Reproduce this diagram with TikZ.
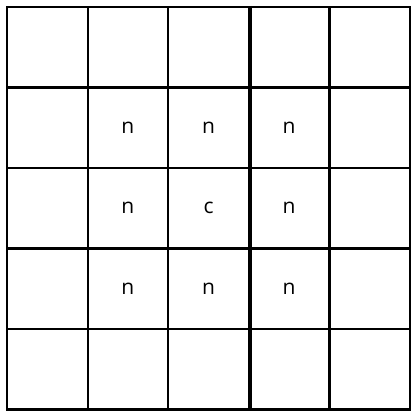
\documentclass[tikz,border=0pt]{standalone}
\usepackage{fontspec}
\setmainfont{Open Sans}
\usepackage{tikz}
\usetikzlibrary{positioning}

\begin{document}
\begin{tikzpicture}[x=1pt,y=1pt,font=\fontsize{21}{24}\selectfont,
  cell/.style={draw,line width=2.2pt,minimum width=80.6pt,minimum height=80.5pt,inner sep=0pt},
  tag/.style={inner sep=0pt},
  bar/.style={line width=3.4pt}]
\useasboundingbox (0,0) rectangle (418,-415);
% 5x5 grid of cells
\foreach \r in {1,...,5}
  \foreach \c in {1,...,5}
    \node[cell] (c\r\c) at ({7+80.6*(\c-0.5)},{-(7+80.5*(\r-0.5))}) {};
% neighbours and centre
\foreach \r/\c/\t in {2/2/n,2/3/n,2/4/n,3/2/n,3/3/c,3/4/n,4/2/n,4/3/n,4/4/n}
  \node[tag] (t\r\c) at (c\r\c) {\t};
% heavier divider
\draw[bar] (c13.north east) -- (c53.south east);
\end{tikzpicture}
\end{document}
